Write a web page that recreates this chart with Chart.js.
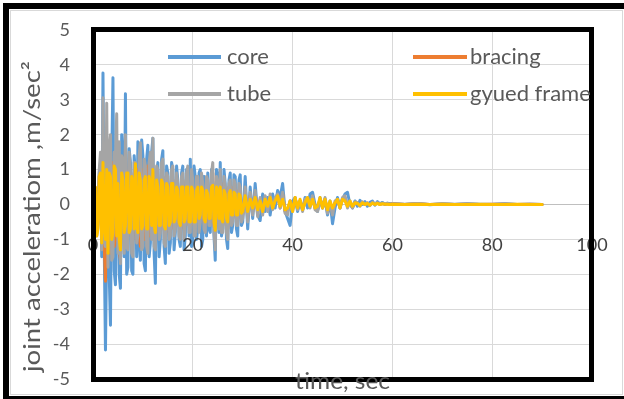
<!DOCTYPE html>
<html><head><meta charset="utf-8">
<script src="https://cdn.jsdelivr.net/npm/chart.js@4.4.1/dist/chart.umd.min.js"></script>
<style>html,body{margin:0;padding:0;background:#fff;}canvas{display:block;}</style>
</head><body>
<canvas id="c" width="624" height="399"></canvas>
<script>
// time axis (seconds)
const timeSec = [
  0, 0.25, 0.5, 0.75, 1, 1.25, 1.5, 1.75,
  2, 2.25, 2.5, 2.75, 3, 3.25, 3.5, 3.75,
  4, 4.25, 4.5, 4.75, 5, 5.25, 5.5, 5.75,
  6, 6.25, 6.5, 6.75, 7, 7.25, 7.5, 7.75,
  8, 8.25, 8.5, 8.75, 9, 9.25, 9.5, 9.75,
  10, 10.25, 10.5, 10.75, 11, 11.25, 11.5, 11.75,
  12, 12.25, 12.5, 12.75, 13, 13.25, 13.5, 13.75,
  14, 14.25, 14.5, 14.75, 15, 15.25, 15.5, 15.75,
  16, 16.25, 16.5, 16.75, 17, 17.25, 17.5, 17.75,
  18, 18.25, 18.5, 18.75, 19, 19.25, 19.5, 19.75,
  20, 20.25, 20.5, 20.75, 21, 21.25, 21.5, 21.75,
  22, 22.25, 22.5, 22.75, 23, 23.25, 23.5, 23.75,
  24, 24.25, 24.5, 24.75, 25, 25.25, 25.5, 25.75,
  26, 26.25, 26.5, 26.75, 27, 27.25, 27.5, 27.75,
  28, 28.25, 28.5, 28.75, 29, 29.25, 29.5, 29.75,
  30,
  30.5, 31, 31.5, 32, 32.5, 33, 33.5, 34, 34.5,
  35, 35.5, 36, 36.5, 37, 37.5, 38, 38.5, 39, 39.5,
  40, 40.5, 41, 41.5, 42, 42.5, 43, 43.5, 44, 44.5,
  45, 45.5, 46, 46.5, 47, 47.5, 48, 48.5, 49, 49.5,
  50, 50.5, 51, 51.5, 52, 52.5, 53, 53.5, 54, 54.5,
  55, 55.5, 56, 56.5, 57, 57.5, 58, 58.5, 59, 59.5,
  60, 62.5, 65, 67.5, 70, 72.5, 75, 77.5, 80, 82.5, 85, 87.5, 90
];
const core = [
  0, -0.3, 0.3, -0.8, -0.5, 0.9, 1.2, -1.5,
  3.77, -1.2, -4.17, -1.0, 1.8, -2.0, -3.46, 1.2,
  3.63, -1.9, -2.3, 1.5, 1.5, -2.0, -2.4, 2.0,
  1.4, -1.5, 3.17, -2.0, -1.8, 1.6, 1.2, -1.9,
  -2.0, 1.4, 0.9, -1.5, 1.8, -1.1, -1.6, 1.85,
  1.4, -1.7, -1.9, 1.3, 1.7, -1.5, -1.1, 1.5,
  1.9, -1.4, -2.26, 0.9, 1.2, -1.5, -1.0, 1.3,
  1.54, -1.2, -1.69, 1.1, 0.9, -1.4, -1.1, 1.2,
  1.0, -1.3, -0.8, 1.1, 0.7, -1.0, -1.2, 0.9,
  1.1, -1.3, -0.9, 1.0, 0.6, -0.9, 1.3, -1.2,
  -1.1, 1.1, 0.8, -1.0, -0.7, 0.9, 1.0, -1.2,
  -1.0, 0.8, 0.5, -0.9, 0.9, -0.7, -0.8, 1.0,
  0.6, -0.9, -1.6, 1.0, 0.8, -0.8, 1.2, -0.9,
  -0.7, 1.0, 0.6, -1.0, -1.26, 0.7, 0.9, -0.8,
  -0.6, 0.85, 0.8, -0.7, -0.9, 0.7, 0.85, -0.6,
  -0.5,
  0.8, -0.7, 0.5, -0.4, 0.6, -0.3, -0.46, 0.3, -0.2,
  0.2, -0.3, 0.3, -0.1, 0.4, 0.2, 0.6, -0.2, -0.4, -0.6,
  0.1, 0.2, -0.2, 0.1, -0.15, 0.2, -0.1, 0.3, 0.35, 0,
  -0.2, 0.2, -0.1, 0.15, -0.3, 0.1, -0.55, -0.1, 0.2, -0.1,
  0.15, 0.3, 0.35, 0, -0.1, 0.1, -0.05, 0.12, 0, 0.08,
  -0.05, 0.06, 0.1, -0.02, 0.08, 0.02, 0.06, 0, 0.04, 0.02,
  0.03, 0, 0.03, -0.01, 0.02, 0, 0.02, 0.01, 0, 0.02, 0, 0.01, 0
];
const bracing = [
  0, -0.3, 0.3, -0.6, -0.4, 0.8, 1.0, -1.0,
  1.5, -1.2, -2.2, 0.9, 0.8, -1.3, -1.4, 1.0,
  1.2, -1.2, -1.0, 1.1, 0.9, -1.3, -1.6, 0.9,
  0.7, -1.0, 1.6, -1.0, -0.9, 1.0, 0.8, -1.1,
  -1.0, 0.9, 0.9, -0.8, 1.0, -0.9, -1.2, 1.0,
  0.8, -1.0, -0.9, 0.9, 1.1, -0.9, -0.7, 1.2,
  0.9, -0.8, -1.0, 0.7, 0.7, -0.8, -0.6, 0.8,
  0.8, -0.7, -0.9, 0.7, 0.6, -0.8, -0.7, 0.8,
  0.7, -0.7, -0.5, 0.7, 0.5, -0.6, -0.8, 0.6,
  0.7, -0.7, -0.5, 0.6, 0.6, -0.6, -0.6, 0.7,
  0.5, -0.6, -0.6, 0.6, 0.6, -0.5, -0.4, 0.6,
  0.5, -0.5, -0.6, 0.5, 0.4, -0.5, -0.5, 0.7,
  0.9, -0.6, -0.8, 0.6, 0.5, -0.5, 0.7, -0.6,
  -0.6, 0.6, 0.4, -0.6, -0.7, 0.5, 0.5, -0.5,
  -0.4, 0.5, 0.4, -0.4, -0.4, 0.4, 0.35, -0.35,
  -0.3,
  0.3, -0.3, 0.25, -0.2, 0.3, -0.2, 0.15, -0.2, 0.2,
  -0.15, 0.2, -0.1, 0.15, 0.25, -0.1, 0.3, -0.2, -0.2, 0.1,
  -0.15, 0.15, -0.1, 0.1, -0.15, 0.1, 0.15, -0.05, 0.2, -0.1,
  -0.15, 0.1, -0.05, 0.15, -0.2, 0.05, -0.2, 0.05, 0.1, -0.05,
  0.15, 0.2, -0.05, 0.05, -0.08, 0.05, 0.04, -0.03, 0.06, 0,
  0.04, -0.02, 0.05, 0.01, 0.04, 0, 0.03, 0.01, 0.02, 0,
  0.02, 0, 0.02, 0, 0.01, 0, 0.01, 0, 0.01, 0.01, 0, 0.01, 0
];
const tube = [
  0, -0.4, 0.4, -0.9, -0.6, 1.0, 1.5, -1.3,
  3.06, -1.0, -1.2, 2.9, -1.8, 1.6, 2.0, -1.6,
  -1.5, 1.5, 1.2, 2.6, -1.4, 1.8, -1.7, 1.4,
  1.3, -1.4, 2.0, -1.2, -1.3, 1.5, 1.0, -1.4,
  -1.5, 1.2, 1.2, -1.1, -0.9, 1.4, 1.77, -1.3,
  -1.2, 1.3, 1.1, -1.2, -1.4, 1.2, 1.5, -1.0,
  1.9, -1.2, -1.3, 1.1, 1.0, -1.0, -0.8, 1.2,
  1.3, -1.1, -1.2, 0.9, 0.8, -1.0, -0.9, 1.0,
  1.1, -0.9, -0.7, 0.9, 0.6, -0.9, -1.0, 0.8,
  0.9, -1.0, -0.6, 0.9, 1.1, -0.8, -0.8, 1.0,
  0.7, -0.9, -0.9, 0.8, 0.8, -0.8, -0.5, 0.9,
  0.6, -0.7, -0.8, 0.8, 0.7, -0.6, -0.6, 0.9,
  1.2, -0.8, -1.3, 0.8, 0.6, -0.7, 1.0, -0.8,
  -0.8, 0.8, 0.5, -0.8, -1.0, 0.6, 0.7, -0.6,
  -0.5, 0.7, 0.6, -0.6, -0.6, 0.6, 0.5, -0.5,
  -0.4,
  0.5, -0.5, 0.35, -0.3, 0.4, -0.35, 0.2, -0.3, 0.25,
  -0.2, 0.3, -0.15, 0.2, 0.3, -0.1, 0.35, -0.25, -0.3, 0.1,
  -0.2, 0.2, -0.15, 0.1, -0.2, 0.15, 0.2, -0.1, 0.25, -0.15,
  -0.2, 0.15, -0.1, 0.2, -0.25, 0.05, -0.3, 0.1, 0.15, -0.1,
  0.2, 0.25, -0.1, 0.1, -0.1, 0.08, 0.05, -0.05, 0.08, 0,
  0.05, -0.03, 0.06, 0.02, 0.05, 0, 0.04, 0.01, 0.03, 0,
  0.02, 0.01, 0.03, 0, 0.02, 0.01, 0.02, 0, 0.01, 0.02, 0, 0.01, 0
];
const gyuedFrame = [
  0, -0.4, 0.5, -0.9, -0.7, 0.8, 0.9, -1.1,
  1.2, -0.6, -1.0, 1.0, -1.4, 0.9, 0.8, -1.0,
  -0.8, 1.1, 1.0, -0.9, 0.6, -1.0, -1.3, 0.9,
  0.7, -0.8, -0.6, 0.9, 0.9, -0.8, -0.7, 0.8,
  0.6, -0.7, 1.17, -0.6, -0.8, 0.9, 0.7, -0.7,
  -0.6, 0.7, 0.8, -0.7, -0.7, 0.8, 0.6, -0.6,
  1.0, -0.6, -0.8, 0.7, 0.5, -0.6, -0.6, 0.7,
  0.6, -0.6, -0.7, 0.6, 0.5, -0.6, -0.5, 0.6,
  0.6, -0.5, -0.4, 0.5, 0.4, -0.5, -0.6, 0.5,
  0.5, -0.5, -0.4, 0.5, 0.5, -0.5, -0.5, 0.5,
  0.4, -0.5, -0.5, 0.4, 0.5, -0.4, -0.3, 0.5,
  0.4, -0.4, -0.5, 0.4, 0.3, -0.4, -0.4, 0.5,
  0.55, -0.5, -0.74, 0.5, 0.4, -0.4, 0.5, -0.4,
  -0.5, 0.4, 0.3, -0.4, -0.5, 0.3, 0.4, -0.3,
  -0.3, 0.35, 0.3, -0.3, -0.3, 0.3, 0.25, -0.25,
  -0.2,
  0.25, -0.2, 0.15, -0.1, 0.2, -0.15, 0.1, -0.2, 0.15,
  -0.05, 0.2, -0.1, 0.1, 0.25, -0.05, 0.15, -0.15, -0.1, 0.1,
  -0.2, 0.2, -0.1, 0.15, -0.15, 0.05, 0.2, -0.05, 0.15, -0.1,
  -0.05, 0.2, -0.1, 0.15, -0.15, 0.1, -0.1, 0.05, 0.15, -0.1,
  0.15, 0.1, -0.05, 0.1, -0.05, 0.05, 0.03, -0.03, 0.05, 0,
  0.03, -0.02, 0.04, 0, 0.03, 0, 0.02, 0.01, 0.01, 0,
  0.01, 0, 0.01, 0, 0.01, 0, 0, 0.01, 0, 0, 0.01, 0, 0
];
const seriesNames = ['core', 'bracing', 'tube', 'gyued frame'];
const seriesColors = ['#5b9bd5', '#ed7d31', '#a5a5a5', '#ffc000'];
const xTickValues = [0, 20, 40, 60, 80, 100];
const xTitle = 'time, sec';
const yTitle = 'joint acceleratiom ,m/sec²';

const seriesValues = [core, bracing, tube, gyuedFrame];
const datasets = seriesValues.map((vals, i) => ({
  label: seriesNames[i],
  data: timeSec.map((t, j) => ({ x: t, y: vals[j] })),
  borderColor: seriesColors[i],
  backgroundColor: seriesColors[i],
  borderWidth: 3,
  pointRadius: 0,
  tension: 0,
  fill: false,
  order: 4 - i,
  borderJoinStyle: 'round',
  borderCapStyle: 'round'
}));

function fitText(ctx, text, x, y, width, align) {
  const w = ctx.measureText(text).width;
  const k = width / w;
  ctx.save();
  ctx.translate(x, y);
  ctx.scale(k, 1);
  ctx.textAlign = align;
  ctx.fillText(text, 0, 0);
  ctx.restore();
}

const decor = {
  id: 'decor',
  beforeDraw(chart) {
    const ctx = chart.ctx;
    ctx.save();
    ctx.fillStyle = '#ffffff';
    ctx.fillRect(0, 0, chart.width, chart.height);
    ctx.strokeStyle = '#d9d9d9';
    ctx.lineWidth = 1;
    ctx.strokeRect(10.5, 10.5, 612, 384);
    ctx.fillStyle = '#000000';
    ctx.fillRect(3, 3, 621, 6);
    ctx.fillRect(3, 3, 6, 396);
    ctx.fillRect(3, 396, 621, 3);
    ctx.restore();
  },
  afterDatasetsDraw(chart) {
    const ctx = chart.ctx;
    const xs = chart.scales.x, ys = chart.scales.y;
    const a = chart.chartArea;
    ctx.save();
    // x tick labels (Excel places them below the zero line)
    ctx.font = '18px Lato';
    ctx.fillStyle = '#404040';
    ctx.textAlign = 'center';
    ctx.textBaseline = 'alphabetic';
    const labY = ys.getPixelForValue(0) + 46.5;
    xTickValues.forEach(v => {
      ctx.fillText(String(v), xs.getPixelForValue(v), labY);
    });
    // plot frame
    ctx.strokeStyle = '#000000';
    ctx.lineWidth = 5;
    ctx.strokeRect(a.left + 0.5, a.top - 0.5, a.right - a.left - 1, a.bottom - a.top + 1);
    // legend
    const legendItems = [
      { i: 0, x1: 168, x2: 221, y: 57, tx: 227, ty: 64 },
      { i: 1, x1: 413, x2: 467, y: 57, tx: 470, ty: 64 },
      { i: 2, x1: 168, x2: 221, y: 94, tx: 227, ty: 101 },
      { i: 3, x1: 413, x2: 467, y: 94, tx: 470, ty: 101 }
    ];
    ctx.font = '22px Lato';
    ctx.textBaseline = 'alphabetic';
    legendItems.forEach(it => {
      ctx.strokeStyle = seriesColors[it.i];
      ctx.lineWidth = 4;
      ctx.lineCap = 'butt';
      ctx.beginPath();
      ctx.moveTo(it.x1, it.y);
      ctx.lineTo(it.x2, it.y);
      ctx.stroke();
      ctx.fillStyle = '#595959';
      ctx.textAlign = 'left';
      ctx.fillText(seriesNames[it.i], it.tx, it.ty);
    });
    // axis titles
    ctx.fillStyle = '#595959';
    ctx.font = '24px Lato';
    fitText(ctx, xTitle, 342.5, 389, 95, 'center');
    ctx.save();
    ctx.translate(40, 216.5);
    ctx.rotate(-Math.PI / 2);
    ctx.font = '24px Lato';
    fitText(ctx, yTitle, 0, 0, 311, 'center');
    ctx.restore();
    ctx.restore();
  }
};

new Chart(document.getElementById('c'), {
  type: 'line',
  data: { datasets },
  options: {
    responsive: false,
    devicePixelRatio: 1,
    animation: false,
    layout: { padding: { top: 30, right: 32, bottom: 0, left: 0 } },
    plugins: { legend: { display: false }, tooltip: { enabled: false } },
    scales: {
      x: {
        type: 'linear', min: 0, max: 100,
        ticks: { display: false, stepSize: 20 },
        grid: { color: '#d9d9d9', lineWidth: 1, drawTicks: false },
        border: { display: false },
        afterFit(s) { s.height = 20; s.paddingLeft = 0; s.paddingRight = 0; }
      },
      y: {
        type: 'linear', min: -5, max: 5,
        ticks: { stepSize: 1, color: '#595959', font: { family: 'Lato', size: 18 }, padding: 23 },
        grid: {
          color: c => (c.tick && c.tick.value === 0) ? '#bfbfbf' : '#d9d9d9',
          lineWidth: 1, drawTicks: false
        },
        border: { display: false },
        afterFit(s) { s.width = 93; s.paddingTop = 0; s.paddingBottom = 0; }
      }
    }
  },
  plugins: [decor]
});
</script>
</body></html>
